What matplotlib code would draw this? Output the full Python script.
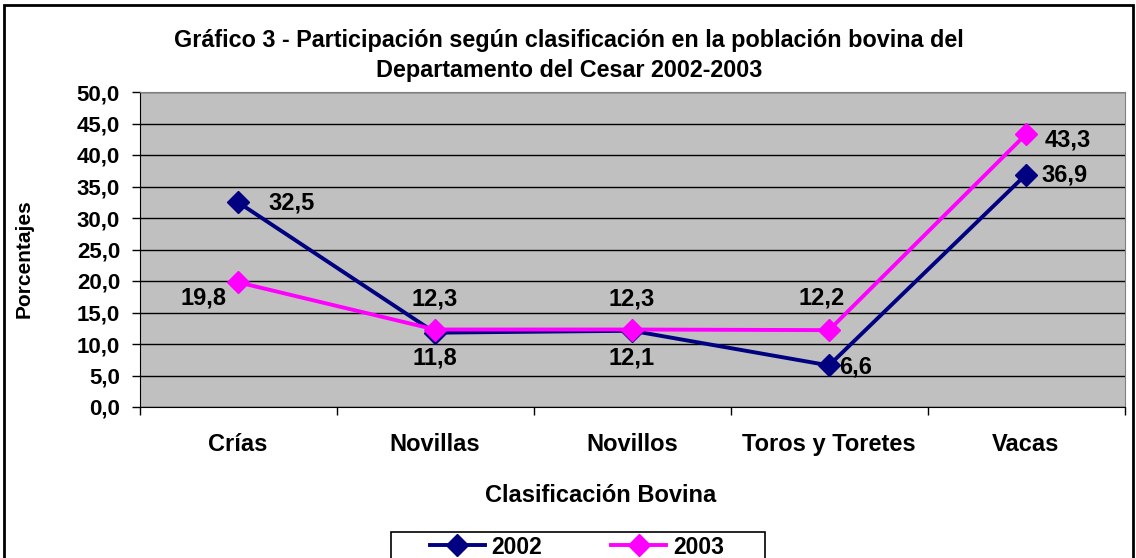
import numpy as np
import matplotlib.pyplot as plt
from matplotlib.patches import Rectangle

plt.rcParams["font.family"] = ["Liberation Sans", "DejaVu Sans"]
plt.rcParams["font.weight"] = "bold"

categorias = ["Crías", "Novillas", "Novillos", "Toros y Toretes", "Vacas"]
valores_2002 = [32.5, 11.8, 12.1, 6.6, 36.9]
valores_2003 = [19.8, 12.3, 12.3, 12.2, 43.3]
etiquetas_2002 = ["32,5", "11,8", "12,1", "6,6", "36,9"]
etiquetas_2003 = ["19,8", "12,3", "12,3", "12,2", "43,3"]
yticks = np.arange(0, 50.1, 5)

# desplazamientos de las etiquetas en pixeles
desp_2002 = [(54, -1), (0, -25), (0, -27), (27, -2), (38, 0)]
desp_2003 = [(-35, -16), (0, 31), (0, 31), (-7, 32), (42, -6)]


def grafico():
    fig = plt.figure(figsize=(11.36, 5.58), dpi=100)
    ax = fig.add_axes([139.5 / 1136, 151 / 558, 985 / 1136, 315 / 558])
    ax.set_facecolor("#C0C0C0")

    x = np.arange(len(categorias))
    ax.plot(x, valores_2002, color="#000080", lw=2.8, marker="D", ms=11, label="2002", zorder=3)
    ax.plot(x, valores_2003, color="#FF00FF", lw=2.8, marker="D", ms=11, label="2003", zorder=3)

    for i in range(len(x)):
        ax.annotate(etiquetas_2002[i], (x[i], valores_2002[i]), xytext=desp_2002[i],
                    textcoords="offset pixels", ha="center", va="center", fontsize=17, fontweight="bold")
        ax.annotate(etiquetas_2003[i], (x[i], valores_2003[i]), xytext=desp_2003[i],
                    textcoords="offset pixels", ha="center", va="center", fontsize=17, fontweight="bold")

    ax.set_xlim(-0.5, len(categorias) - 0.5)
    ax.set_ylim(0, 50)
    ax.set_yticks(yticks)
    ax.set_yticklabels([f"{v:.1f}".replace(".", ",") for v in yticks], fontsize=16, fontweight="bold")
    ax.set_xticks(x)
    ax.set_xticklabels(categorias, fontsize=17, fontweight="bold")
    ax.set_xticks(np.arange(-0.5, len(categorias)), minor=True)
    ax.tick_params(axis="x", which="major", length=0, pad=19)
    ax.tick_params(axis="x", which="minor", length=6, direction="out", width=1)
    ax.tick_params(axis="y", length=6, direction="out", width=1, pad=8)
    ax.grid(axis="y", color="black", lw=1)
    ax.set_axisbelow(True)
    for lado in ["top", "right"]:
        ax.spines[lado].set_color("#808080")
    for lado in ["left", "bottom"]:
        ax.spines[lado].set_color("black")

    fig.text(569 / 1136, 1 - 40 / 558, "Gráfico 3 - Participación según clasificación en la población bovina del",
             ha="center", va="center", fontsize=16.8, fontweight="bold")
    fig.text(569 / 1136, 1 - 71 / 558, "Departamento del Cesar 2002-2003",
             ha="center", va="center", fontsize=16.8, fontweight="bold")
    fig.text(601 / 1136, 1 - 495 / 558, "Clasificación Bovina", ha="center", va="center",
             fontsize=17, fontweight="bold")
    fig.text(24 / 1136, 1 - 259 / 558, "Porcentajes", ha="center", va="center", rotation=90,
             fontsize=15, fontweight="bold")

    # marco exterior
    fig.patches.append(Rectangle((4 / 1136, -0.05), 1129 / 1136, 1.05 - 5 / 558, transform=fig.transFigure,
                                 fill=False, edgecolor="black", lw=2))
    # marco de la leyenda
    fig.patches.append(Rectangle((391 / 1136, -0.05), 374 / 1136, 0.05 + 26 / 558, transform=fig.transFigure,
                                 fill=False, edgecolor="black", lw=1.2))

    fig.legend(loc="center", bbox_to_anchor=(577 / 1136, 1 - 547 / 558), ncol=2,
               frameon=False, handlelength=2.4, columnspacing=3.0,
               borderpad=0, handletextpad=0.3, prop={"weight": "bold", "size": 16.5})

    fig.savefig("out.png", dpi=100)


if __name__ == "__main__":
    grafico()
